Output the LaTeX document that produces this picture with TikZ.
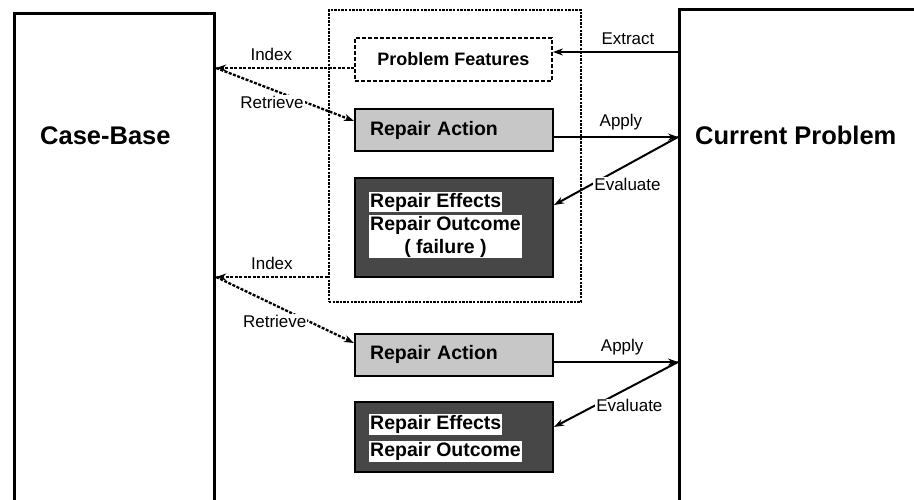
\documentclass[tikz,border=0pt]{standalone}
\usepackage{fontspec}
\setmainfont{Liberation Sans}
\usetikzlibrary{arrows.meta, calc}

\begin{document}
\begin{tikzpicture}[x=1pt, y=-1pt,
    bigbox/.style={draw, line width=3.2pt, anchor=north west},
    bigtext/.style={font=\bfseries\fontsize{25.5}{30}\selectfont, anchor=west, inner sep=0pt},
    grpbox/.style={draw, line width=2.8pt, dash pattern=on 2.4pt off 1.2pt},
    featbox/.style={draw, line width=1.8pt, dash pattern=on 4pt off 2pt, minimum width=197pt, minimum height=43pt, font=\bfseries\fontsize{18}{20}\selectfont},
    actbox/.style={draw, line width=2pt, fill=black!22, minimum width=198pt, minimum height=42pt, text width=168pt, inner xsep=15pt, align=left, font=\bfseries\fontsize{19.5}{22}\selectfont},
    effbox/.style={draw, line width=2pt, fill=black!72, minimum width=198pt},
    strip/.style={fill=white, inner xsep=1pt, inner ysep=1pt, anchor=west, font=\bfseries\fontsize{19.5}{23}\selectfont},
    flow/.style={line width=2pt, -{Stealth[length=10pt, width=7pt]}},
    idx/.style={line width=2.3pt, dash pattern=on 3pt off 1.5pt, -{Stealth[length=10pt, width=7pt]}},
    lbl/.style={font=\fontsize{17}{19}\selectfont}]

    % page frame
    \clip (0,0) rectangle (914,499);

    % the case-base and the current problem
    \node[bigbox, minimum width=200pt, minimum height=492pt] (cb) at (13,12) {};
    \node[bigtext] (cbtext) at (40,136) {Case-Base};
    \node[bigbox, minimum width=250pt, minimum height=494pt] (cp) at (678,8) {};
    \node[bigtext] (cptext) at (695,135) {Current Problem};

    % first try, inside the dotted group
    \node[grpbox, minimum width=252pt, minimum height=292pt] (grp) at (455,156) {};
    \node[featbox] (pf) at (453.5,59.5) {Problem Features};
    \node[actbox] (raA) at (454,130) {Repair Action};
    \node[effbox, minimum height=99pt] (efA) at (454,227.5) {};
    \node[strip] (efAe) at (369,202) {Repair Effects};
    \node[strip, anchor=north west, align=center] (efAo) at (369,215) {Repair Outcome\\( failure )};

    % second try
    \node[actbox] (raB) at (454,354.5) {Repair Action};
    \node[effbox, minimum height=70pt] (efB) at (454,437) {};
    \node[strip] (efBe) at (369,424.5) {Repair Effects};
    \node[strip] (efBo) at (369,451.5) {Repair Outcome};

    % index and retrieve, first try
    \coordinate (ixA) at ([yshift=-8.5pt]pf.west);
    \draw[idx] (ixA) -- (ixA -| cb.east) node[lbl, pos=0.6, above=3pt] {Index};
    \draw[idx] (ixA -| cb.east) -- ([yshift=9pt]raA.west)
        node[lbl, pos=0.65, anchor=east, fill=white, inner sep=1pt] {Retrieve};

    % extract, apply and evaluate, first try
    \coordinate (exA) at ([yshift=7.5pt]pf.east);
    \draw[flow] (exA -| cp.west) -- (exA) node[lbl, pos=0.4, above=3pt] {Extract};
    \coordinate (apA) at ([yshift=-7pt]raA.east);
    \draw[flow] (apA) -- (apA -| cp.west) node[lbl, pos=0.54, above=3pt] {Apply};
    \draw[flow] (apA -| cp.west) -- ([yshift=22.5pt]efA.east)
        node[lbl, pos=0.69, anchor=west, fill=white, inner sep=1pt] {Evaluate};

    % index and retrieve, second try
    \coordinate (ixB) at ([yshift=-121pt]grp.west);
    \draw[idx] (ixB) -- (ixB -| cb.east) node[lbl, midway, above=3pt] {Index};
    \draw[idx] (ixB -| cb.east) -- ([yshift=11.5pt]raB.west)
        node[lbl, pos=0.67, anchor=east, fill=white, inner sep=1pt] {Retrieve};

    % apply and evaluate, second try
    \coordinate (apB) at ([yshift=-7.5pt]raB.east);
    \draw[flow] (apB) -- (apB -| cp.west) node[lbl, pos=0.55, above=3pt] {Apply};
    \draw[flow] (apB -| cp.west) -- ([yshift=10pt]efB.east)
        node[lbl, pos=0.675, anchor=west, fill=white, inner sep=1pt] {Evaluate};
\end{tikzpicture}
\end{document}
